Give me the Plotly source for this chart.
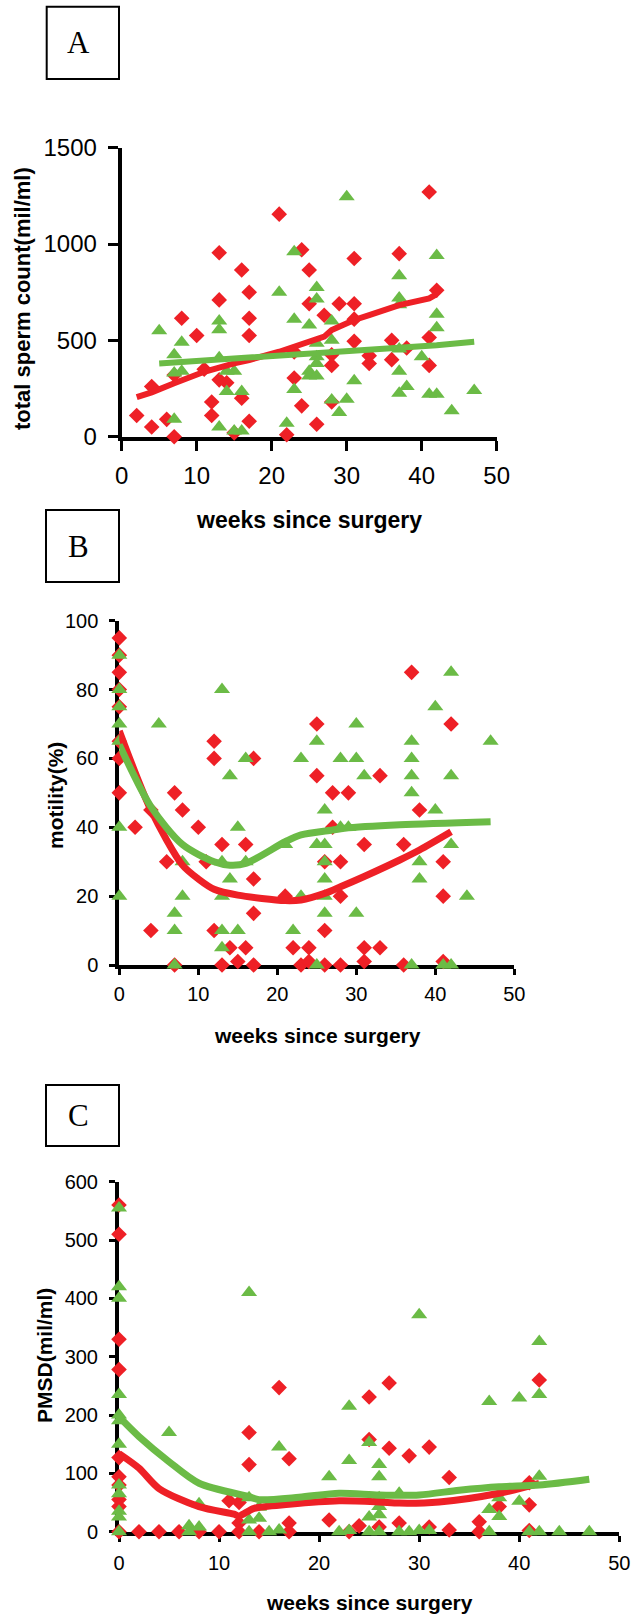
import plotly.graph_objects as go

W, H = 631, 1614
RED = "#EE2026"
GREEN = "#6BBB46"
FONT = "Arial, Liberation Sans, sans-serif"
SERIF = "Times New Roman, Liberation Serif, serif"

# ---------------- Panel A: total sperm count ----------------
a_red_x = [2, 4, 4, 6, 7, 7, 8, 10, 11, 12, 12, 13, 13, 13, 14, 15, 16, 16, 17, 17,
           17, 17, 21, 22, 23, 23, 24, 24, 25, 25, 26, 27, 28, 28, 28, 29, 31, 31, 31, 31,
           33, 33, 36, 36, 37, 38, 41, 41, 41, 42]
a_red_y = [110, 50, 260, 90, 0, 320, 615, 525, 350, 180, 110, 955, 710, 295, 280, 20, 865, 200, 750, 615,
           525, 80, 1155, 10, 440, 305, 970, 160, 865, 690, 65, 630, 425, 370, 180, 690, 925, 690, 610, 495,
           420, 380, 500, 400, 950, 460, 1270, 515, 370, 760]
a_green_x = [5, 7, 7, 7, 8, 8, 13, 13, 13, 13, 14, 14, 15, 15, 16, 16, 21, 22, 23, 23,
             23, 25, 25, 25, 26, 26, 26, 26, 26, 26, 28, 28, 28, 29, 30, 30, 31, 37, 37, 37,
             37, 37, 37, 38, 40, 41, 42, 42, 42, 42, 44, 47]
a_green_y = [550, 425, 330, 90, 490, 340, 600, 555, 410, 50, 235, 340, 340, 30, 235, 30, 750, 70, 960, 610,
             245, 580, 340, 315, 775, 715, 485, 415, 380, 315, 600, 500, 190, 125, 1245, 195, 290, 835, 720, 685,
             455, 340, 225, 260, 415, 220, 940, 635, 565, 220, 135, 240]
a_red_line_x = [2, 4, 7, 11, 15, 17, 21, 23, 25, 27, 28, 31, 33, 37, 41, 42]
a_red_line_y = [205, 230, 277, 337, 381, 398, 441, 467, 493, 519, 554, 606, 631, 683, 718, 740]
a_green_line_x = [5, 13, 15, 23, 30, 37, 42, 47]
a_green_line_y = [380, 400, 410, 428, 440, 465, 475, 493]

# ---------------- Panel B: motility ----------------
b_red_x = [0, 0, 0, 0, 0, 0, 0, 0, 2, 4, 4, 6, 7, 7, 8, 10, 11, 12, 12, 12,
           13, 13, 14, 15, 16, 16, 17, 17, 17, 17, 21, 22, 23, 24, 24, 25, 25, 26, 26, 26,
           27, 27, 28, 28, 28, 29, 31, 31, 31, 33, 33, 36, 36, 37, 38, 41, 41, 41, 42]
b_red_y = [95, 90, 85, 80, 75, 65, 60, 50, 40, 45, 10, 30, 50, 0, 45, 40, 30, 65, 60, 10,
           35, 0, 5, 1, 35, 5, 60, 25, 15, 0, 20, 5, 0, 5, 1, 70, 55, 30, 10, 0,
           50, 40, 30, 20, 0, 50, 35, 5, 1, 55, 5, 35, 0, 85, 45, 30, 20, 1, 70]
b_green_x = [0, 0, 0, 0, 0, 0, 0, 5, 7, 7, 7, 8, 8, 13, 13, 13, 13, 13, 14, 14,
             15, 15, 16, 16, 21, 22, 23, 23, 25, 25, 25, 26, 26, 26, 26, 26, 26, 28, 28, 29,
             30, 30, 30, 31, 37, 37, 37, 37, 37, 38, 38, 40, 40, 41, 42, 42, 42, 42, 44, 47]
b_green_y = [90, 80, 75, 70, 65, 40, 20, 70, 15, 10, 0, 30, 20, 80, 30, 20, 10, 5, 55, 25,
             40, 10, 60, 30, 35, 10, 60, 20, 65, 35, 0, 45, 35, 30, 25, 20, 15, 60, 40, 40,
             70, 60, 15, 55, 65, 60, 55, 50, 0, 30, 25, 75, 45, 0, 85, 55, 35, 0, 20, 65]
b_red_line_x = [0, 4, 8, 10, 12, 15, 21, 23, 26, 28, 31, 35.5, 38, 42]
b_red_line_y = [68, 45, 29, 25, 22, 20.3, 18.7, 18.9, 20.8, 22.7, 25.7, 30.5, 33.4, 38.7]
b_green_line_x = [0, 4, 8, 12, 14, 16, 21, 23, 27, 28.5, 35.5, 47]
b_green_line_y = [64, 46, 35, 30, 29, 29.5, 35.8, 37.8, 39.2, 39.7, 40.7, 41.6]

# ---------------- Panel C: PMSD ----------------
c_red_x = [0, 0, 0, 0, 0, 0, 0, 0, 0, 0,
           2, 4, 6, 8, 10, 11, 12, 12, 12, 13, 13, 14, 16, 17, 17, 17, 21, 23, 24, 25,
           25, 26, 27, 27, 28, 29, 31, 31, 33, 33, 36, 36, 38, 41, 41, 41, 42]
c_red_y = [560, 510, 330, 278, 127, 94, 80, 55, 43, 0,
           0, 0, 0, 0, 0, 53, 50, 15, 0, 170, 115, 0, 247, 125, 15, 0, 20, 0, 10, 231,
           158, 8, 255, 143, 15, 130, 145, 8, 93, 3, 17, 0, 43, 84, 46, 2, 260]
c_green_x = [0, 0, 0, 0, 0, 0, 0, 0, 0, 0, 0, 0,
             5, 7, 7, 8, 8, 13, 13, 13, 13, 14, 14, 15, 16, 16, 21, 22, 23, 23, 23, 25,
             25, 25, 26, 26, 26, 26, 26, 26, 28, 28, 29, 30, 30, 31, 37, 37, 37, 38, 38, 40,
             40, 41, 42, 42, 42, 42, 44, 47]
c_green_y = [555, 420, 400, 235, 200, 190, 150, 80, 65, 35, 25, 0,
             170, 10, 0, 48, 8, 410, 58, 20, 0, 42, 23, 0, 145, 3, 94, 0, 215, 122, 2, 153,
             25, 0, 115, 94, 58, 43, 29, 0, 66, 0, 0, 372, 2, 2, 223, 38, 0, 58, 26, 229,
             52, 0, 326, 235, 95, 0, 0, 0]
c_red_line_x = [0, 2, 4, 8, 11.5, 12, 13.5, 17, 22, 26, 28, 32, 38, 42]
c_red_line_y = [134, 109, 74, 43, 30, 27, 40, 47, 53, 51, 49, 51, 66, 83]
c_green_line_x = [0, 2, 5, 8, 13, 14, 18, 22, 26, 30, 34, 38, 42, 47]
c_green_line_y = [197, 163, 120, 83, 60, 55, 59, 66, 63, 63, 71, 77, 80, 90]

x_ticks = [0, 10, 20, 30, 40, 50]


def px(x):
    return x / W


def py(y):
    return 1 - y / H


fig = go.Figure()

panels = [
    dict(sfx="", red=(a_red_x, a_red_y), green=(a_green_x, a_green_y),
         rl=(a_red_line_x, a_red_line_y), gl=(a_green_line_x, a_green_line_y), lw=6,
         shape="linear"),
    dict(sfx="2", red=(b_red_x, b_red_y), green=(b_green_x, b_green_y),
         rl=(b_red_line_x, b_red_line_y), gl=(b_green_line_x, b_green_line_y), lw=7,
         shape="spline"),
    dict(sfx="3", red=(c_red_x, c_red_y), green=(c_green_x, c_green_y),
         rl=(c_red_line_x, c_red_line_y), gl=(c_green_line_x, c_green_line_y), lw=7,
         shape="spline"),
]

for p in panels:
    xa = "x" + p["sfx"]
    ya = "y" + p["sfx"]
    fig.add_trace(go.Scatter(x=p["red"][0], y=p["red"][1], mode="markers", xaxis=xa, yaxis=ya,
                             marker=dict(symbol="diamond", size=12, color=RED, line=dict(width=0)),
                             cliponaxis=False, showlegend=False))
    fig.add_trace(go.Scatter(x=p["green"][0], y=p["green"][1], mode="markers", xaxis=xa, yaxis=ya,
                             marker=dict(symbol="triangle-up", size=14, color=GREEN, line=dict(width=0)),
                             cliponaxis=False, showlegend=False))
    fig.add_trace(go.Scatter(x=p["rl"][0], y=p["rl"][1], mode="lines", xaxis=xa, yaxis=ya,
                             line=dict(color=RED, width=p["lw"], shape=p["shape"], smoothing=0.8),
                             cliponaxis=False, showlegend=False))
    fig.add_trace(go.Scatter(x=p["gl"][0], y=p["gl"][1], mode="lines", xaxis=xa, yaxis=ya,
                             line=dict(color=GREEN, width=p["lw"], shape=p["shape"], smoothing=0.8),
                             cliponaxis=False, showlegend=False))


def axis_common(size, ticklen, standoff):
    return dict(showline=True, linecolor="black", linewidth=4, mirror=False,
                showgrid=False, zeroline=False, ticks="outside", ticklen=ticklen,
                tickwidth=3, tickcolor="black", layer="below traces", automargin=False,
                ticklabelstandoff=standoff,
                tickfont=dict(family=FONT, size=size, color="black"), fixedrange=True)


layout = dict(
    template="none",
    width=W, height=H, margin=dict(l=0, r=0, t=0, b=0, pad=0, autoexpand=False),
    paper_bgcolor="white", plot_bgcolor="white", showlegend=False,
    # Panel A
    xaxis=dict(domain=[px(121.7), px(496.7)], range=[0, 50], tickvals=x_ticks, anchor="y",
               **axis_common(24, 10, 4)),
    yaxis=dict(domain=[py(436.7), py(147.7)], range=[0, 1500], tickvals=[0, 500, 1000, 1500],
               anchor="x", **axis_common(24, 10, 6)),
    # Panel B
    xaxis2=dict(domain=[px(119.3), px(514.3)], range=[0, 50], tickvals=x_ticks, anchor="y2",
                **axis_common(20, 6, 2)),
    yaxis2=dict(domain=[py(965), py(620.7)], range=[0, 100], tickvals=[0, 20, 40, 60, 80, 100],
                anchor="x2", **axis_common(20, 6, 7)),
    # Panel C
    xaxis3=dict(domain=[px(119), px(619.3)], range=[0, 50], tickvals=x_ticks, anchor="y3",
                **axis_common(20, 6, 4)),
    yaxis3=dict(domain=[py(1531.7), py(1181.7)], range=[0, 600],
                tickvals=[0, 100, 200, 300, 400, 500, 600], anchor="x3", **axis_common(20, 6, 7)),
)
fig.update_layout(**layout)

annotations = []


def ann(text, x, y, size, angle=0, bold=True, family=FONT):
    annotations.append(dict(
        text=("<b>%s</b>" % text) if bold else text, x=px(x), y=py(y),
        xref="paper", yref="paper", xanchor="center", yanchor="middle",
        showarrow=False, textangle=angle,
        font=dict(family=family, size=size, color="black")))


# axis titles
ann("total sperm count(mil/ml)", 22, 299, 22, angle=-90)
ann("weeks since surgery", 309, 520, 23)
ann("motility(%)", 55, 796, 21, angle=-90)
ann("weeks since surgery", 317, 1035, 21)
ann("PMSD(mil/ml)", 44, 1356, 21, angle=-90)
ann("weeks since surgery", 369, 1602, 21)

# panel letters in boxes
boxes = [("A", 46.7, 6.7, 119, 79), ("B", 46, 510, 119, 582), ("C", 46, 1085, 119, 1146)]
shapes = []
for letter, x0, y0, x1, y1 in boxes:
    shapes.append(dict(type="rect", xref="paper", yref="paper",
                       x0=px(x0), x1=px(x1), y0=py(y1), y1=py(y0),
                       line=dict(color="black", width=2), fillcolor="rgba(0,0,0,0)"))
    ann(letter, (x0 + x1) / 2 - 4, (y0 + y1) / 2, 31, bold=False, family=SERIF)

fig.update_layout(annotations=annotations, shapes=shapes)

fig.write_html(
    "out.html",
    config={"displayModeBar": False},
    post_script="document.body.style.margin='0';document.body.style.padding='0';"
                "document.documentElement.style.overflow='hidden';",
)
